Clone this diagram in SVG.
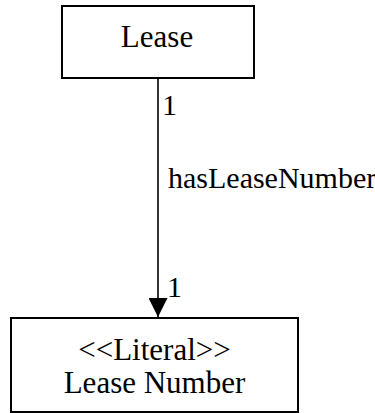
<svg xmlns="http://www.w3.org/2000/svg" width="375" height="413" viewBox="0 0 375 413">
<defs>
<style>
.box{fill:#fff;stroke:#000;stroke-width:2}
text{font-family:'Liberation Serif','Times New Roman',serif;font-size:30px;fill:#000}
.c{text-anchor:middle}
.lg{font-size:31px}
.edge{stroke:#000;stroke-width:1.6;fill:none}
</style>
<marker id="arr" markerWidth="20" markerHeight="19" refX="19" refY="9.5" orient="auto" markerUnits="userSpaceOnUse">
<path d="M0,0 L19,9.5 L0,19 Z" fill="#000"/>
</marker>
</defs>
<g id="connectors">
<line class="edge" x1="158" y1="78" x2="158" y2="317" marker-end="url(#arr)"/>
<text x="162" y="115">1</text>
<text x="168" y="188">hasLeaseNumber</text>
<text x="167" y="297">1</text>
</g>
<g id="lease">
<rect class="box" x="62" y="6" width="192" height="72"/>
<text class="c lg" x="157" y="47">Lease</text>
</g>
<g id="leaseNumber">
<rect class="box" x="11" y="318" width="287" height="94"/>
<text class="c lg" x="154.5" y="360">&lt;&lt;Literal&gt;&gt;</text>
<text class="c lg" x="154.5" y="393">Lease Number</text>
</g>
</svg>
